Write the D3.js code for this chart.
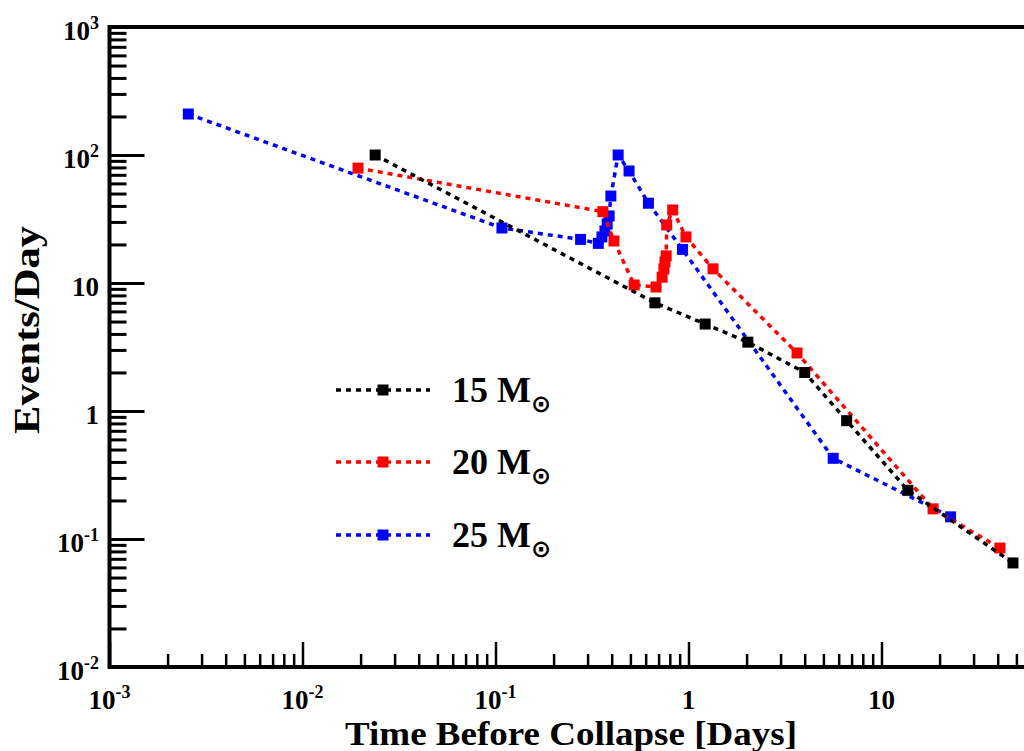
<!DOCTYPE html>
<html><head><meta charset="utf-8">
<script src="https://cdn.jsdelivr.net/npm/d3@7"></script>
<style>
html,body{margin:0;padding:0;background:#fff;}
svg{display:block;}
text{font-family:"Liberation Serif","Times New Roman",serif;font-weight:bold;fill:#000;}
</style></head><body>
<svg id="chart" width="1024" height="751"></svg>
<script>
// Time before collapse [days] and neutrino event rate [events/day]
const time15 = [0.0238, 0.67, 1.22, 2.03, 4.0, 6.6, 13.7, 48];
const rate15 = [100, 7.0, 4.78, 3.45, 2.0, 0.84, 0.24, 0.065];

const time20 = [0.0194, 0.360, 0.411, 0.523, 0.679, 0.730, 0.746, 0.755, 0.766, 0.771, 0.828, 0.970, 1.34, 3.65, 18.5, 41.1];
const rate20 = [79, 36.1, 21.3, 9.65, 9.31, 11.1, 12.9, 14.6, 16.3, 28.4, 37.2, 22.9, 12.9, 2.84, 0.172, 0.085];

const time25 = [0.00256, 0.108, 0.276, 0.341, 0.356, 0.369, 0.379, 0.388, 0.396, 0.432, 0.492, 0.620, 0.931, 5.62, 22.8];
const rate25 = [209, 26.9, 21.9, 20.4, 22.9, 25.5, 28.9, 33.4, 47.8, 100, 75.0, 42.0, 18.3, 0.427, 0.149];

const seriesMass = ["15", "20", "25"];
const seriesColor = ["#000000", "#ff0000", "#0000ff"];

const xMajorTicks = [1e-3, 1e-2, 1e-1, 1, 10, 100];
const yMajorTicks = [1e-2, 1e-1, 1, 10, 100, 1000];

const xTitle = "Time Before Collapse [Days]";
const yTitle = "Events/Day";

const svg = d3.select("#chart");
const W = 1024, H = 751;
svg.append("rect").attr("width", W).attr("height", H).attr("fill", "#fff");

const plotL = 109.5, plotR = 1074.5, plotT = 27, plotB = 667;
const x = d3.scaleLog().domain([1e-3, 1e2]).range([plotL, plotR]);
const y = d3.scaleLog().domain([1e-2, 1e3]).range([plotB, plotT]);

// minor ticks: 2..9 within each decade
function minorTicks(majors) {
  const out = [];
  for (let i = 0; i < majors.length - 1; i++)
    for (let k = 2; k <= 9; k++) out.push(majors[i] * k);
  return out;
}
const xMinor = minorTicks(xMajorTicks);
const yMinor = minorTicks(yMajorTicks);

// axes, ticks drawn inward
function styleAxis(g, w) {
  g.select(".domain").remove();
  g.selectAll(".tick line").attr("stroke", "#000").attr("stroke-width", w);
  g.selectAll(".tick text").remove();
}
svg.append("g").attr("transform", `translate(0,${plotB})`)
  .call(d3.axisBottom(x).tickValues(xMinor).tickSize(-13).tickFormat(""))
  .call(g => styleAxis(g, 2.5));
svg.append("g").attr("transform", `translate(0,${plotB})`)
  .call(d3.axisBottom(x).tickValues(xMajorTicks).tickSize(-25).tickFormat(""))
  .call(g => styleAxis(g, 2.5));
svg.append("g").attr("transform", `translate(${plotL},0)`)
  .call(d3.axisLeft(y).tickValues(yMinor).tickSize(-17).tickFormat(""))
  .call(g => styleAxis(g, 3));
svg.append("g").attr("transform", `translate(${plotL},0)`)
  .call(d3.axisLeft(y).tickValues(yMajorTicks).tickSize(-35).tickFormat(""))
  .call(g => styleAxis(g, 3));

// frame
svg.append("rect").attr("x", plotL).attr("y", plotT)
  .attr("width", plotR - plotL).attr("height", plotB - plotT)
  .attr("fill", "none").attr("stroke", "#000").attr("stroke-width", 4);

// tick labels with powers of ten
function powLabel(sel, v) {
  const e = Math.round(Math.log10(v));
  if (e === 0) { sel.text("1"); return; }
  if (e === 1) { sel.text("10"); return; }
  sel.append("tspan").text("10");
  sel.append("tspan").attr("font-size", "18px").attr("dy", "-11").text(e);
}
yMajorTicks.forEach(v => {
  svg.append("text").attr("x", 99).attr("y", y(v) + 13)
    .attr("text-anchor", "end").attr("font-size", "27px")
    .call(s => powLabel(s, v));
});
xMajorTicks.filter(v => x(v) < W).forEach(v => {
  svg.append("text").attr("x", x(v)).attr("y", 709)
    .attr("text-anchor", "middle").attr("font-size", "27px")
    .call(s => powLabel(s, v));
});

// axis titles
svg.append("text").attr("x", 571).attr("y", 745).attr("text-anchor", "middle")
  .attr("font-size", "34px").attr("textLength", 452)
  .attr("lengthAdjust", "spacingAndGlyphs").text(xTitle);
svg.append("text").attr("transform", `translate(39,330) rotate(-90)`)
  .attr("text-anchor", "middle").attr("font-size", "35px").attr("textLength", 208)
  .attr("lengthAdjust", "spacingAndGlyphs").text(yTitle);

// data series
const series = [
  { t: time25, r: rate25, c: seriesColor[2] },
  { t: time20, r: rate20, c: seriesColor[1] },
  { t: time15, r: rate15, c: seriesColor[0] }
];
const line = d3.line().x(d => x(d[0])).y(d => y(d[1]));
const ms = 11;
series.forEach(s => {
  const pts = s.t.map((t, i) => [t, s.r[i]]);
  const g = svg.append("g");
  g.append("path").attr("d", line(pts)).attr("fill", "none")
    .attr("stroke", s.c).attr("stroke-width", 3.5).attr("stroke-dasharray", "5,5");
  g.selectAll("rect").data(pts).join("rect")
    .attr("x", d => x(d[0]) - ms / 2).attr("y", d => y(d[1]) - ms / 2)
    .attr("width", ms).attr("height", ms).attr("fill", s.c);
});

// legend
const legendY = [390, 462, 535];
seriesMass.forEach((m, i) => {
  const g = svg.append("g").attr("transform", `translate(0,${legendY[i]})`);
  g.append("line").attr("x1", 336).attr("x2", 430).attr("y1", 0).attr("y2", 0)
    .attr("stroke", seriesColor[i]).attr("stroke-width", 3.5).attr("stroke-dasharray", "5,5");
  g.append("rect").attr("x", 383 - ms / 2).attr("y", -ms / 2)
    .attr("width", ms).attr("height", ms).attr("fill", seriesColor[i]);
  const t = g.append("text").attr("x", 452).attr("y", 12).attr("font-size", "36px");
  t.append("tspan").text(m + " M");
  t.append("tspan").attr("font-family", "DejaVu Sans").attr("font-weight", "bold")
    .attr("font-size", "24px").attr("dx", "0").attr("dy", "10").text("\u2299");
});
</script>
</body></html>
